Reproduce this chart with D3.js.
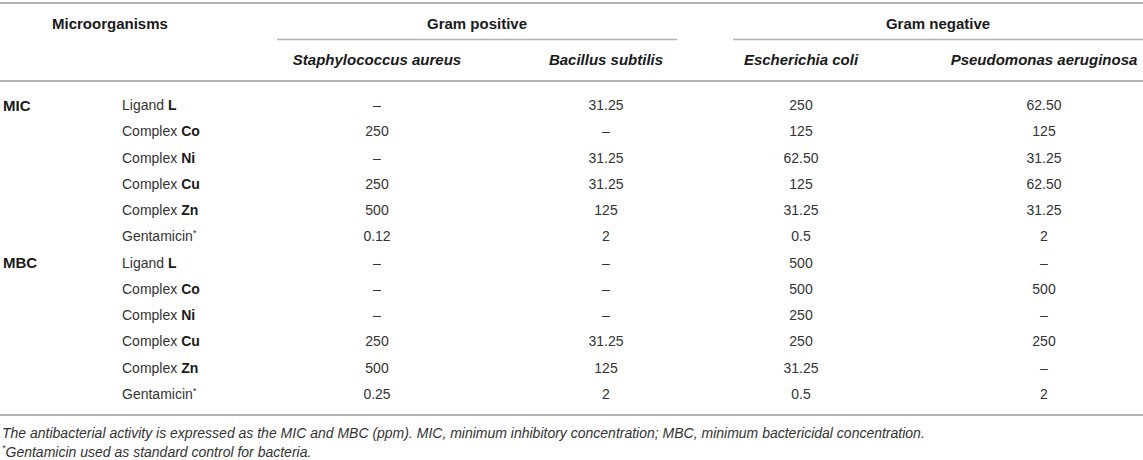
<!DOCTYPE html>
<html lang="en">
<head>
  <meta charset="UTF-8" />
  <title>table</title>
  <script src="https://cdn.jsdelivr.net/npm/d3@7/dist/d3.min.js"></script>
  <style>
    body { margin: 0; background: #fff; }
    text { font-family: "Liberation Sans", Arial, sans-serif; }
  </style>
</head>
<body>
  <svg id="svg"></svg>
<script>
  const groups = ["Gram positive", "Gram negative"];
  const species = ["Staphylococcus aureus", "Bacillus subtilis", "Escherichia coli", "Pseudomonas aeruginosa"];
  const measures = ["MIC", "MBC"];
  const compoundName = ["Ligand", "Complex", "Complex", "Complex", "Complex", "Gentamicin"];
  const compoundBold = ["L", "Co", "Ni", "Cu", "Zn", ""];
  const micValues = [
    ["–", "31.25", "250", "62.50"],
    ["250", "–", "125", "125"],
    ["–", "31.25", "62.50", "31.25"],
    ["250", "31.25", "125", "62.50"],
    ["500", "125", "31.25", "31.25"],
    ["0.12", "2", "0.5", "2"]
  ];
  const mbcValues = [
    ["–", "–", "500", "–"],
    ["–", "–", "500", "500"],
    ["–", "–", "250", "–"],
    ["250", "31.25", "250", "250"],
    ["500", "125", "31.25", "–"],
    ["0.25", "2", "0.5", "2"]
  ];
  const footnotes = [
    "The antibacterial activity is expressed as the MIC and MBC (ppm). MIC, minimum inhibitory concentration; MBC, minimum bactericidal concentration.",
    "Gentamicin used as standard control for bacteria."
  ];

  const width = 1143;
  const height = 460;
  const lineColor = "#b3b3b3";
  const headColor = "#1a1a1a";
  const bodyColor = "#333333";
  const headSize = 15;
  const bodySize = 14;

  const svg = d3.select("#svg").attr("width", width).attr("height", height);

  // rows: measure x compound
  const rows = [];
  measures.forEach((m, mi) => {
    const vals = mi === 0 ? micValues : mbcValues;
    compoundName.forEach((c, ci) => {
      rows.push({ measure: m, first: ci === 0, name: c, bold: compoundBold[ci], values: vals[ci] });
    });
  });

  const xScale = d3.scaleOrdinal().domain(species).range([377, 606, 801, 1044]);
  const groupScale = d3.scaleOrdinal().domain(groups).range([[277, 677], [733, 1143]]);
  const yScale = d3.scalePoint().domain(d3.range(rows.length)).range([105, 394]);

  // horizontal rules
  [3, 81, 415].forEach(y => {
    svg.append("line").attr("x1", 0).attr("x2", width).attr("y1", y).attr("y2", y)
      .attr("stroke", lineColor).attr("stroke-width", 2);
  });

  // header
  svg.append("text").attr("x", 52).attr("y", 23).attr("dominant-baseline", "central")
    .attr("font-size", headSize).attr("font-weight", "bold").attr("fill", headColor)
    .text("Microorganisms");

  groups.forEach(g => {
    const [a, b] = groupScale(g);
    svg.append("text").attr("x", (a + b) / 2).attr("y", 23).attr("dominant-baseline", "central")
      .attr("text-anchor", "middle").attr("font-size", headSize).attr("font-weight", "bold")
      .attr("fill", headColor).text(g);
    svg.append("line").attr("x1", a).attr("x2", b).attr("y1", 39.5).attr("y2", 39.5)
      .attr("stroke", lineColor).attr("stroke-width", 1.3);
  });

  svg.selectAll(".species").data(species).join("text")
    .attr("class", "species")
    .attr("x", d => xScale(d)).attr("y", 59).attr("dominant-baseline", "central")
    .attr("text-anchor", "middle").attr("font-size", headSize).attr("font-weight", "bold")
    .attr("font-style", "italic").attr("fill", headColor).text(d => d);

  // body rows
  const rowG = svg.selectAll(".row").data(rows).join("g")
    .attr("class", "row")
    .attr("transform", (d, i) => `translate(0, ${yScale(i)})`);

  rowG.filter(d => d.first).append("text")
    .attr("x", 3).attr("dominant-baseline", "central").attr("font-size", headSize)
    .attr("font-weight", "bold").attr("fill", headColor).text(d => d.measure);

  const label = rowG.append("text")
    .attr("x", 122).attr("dominant-baseline", "central").attr("font-size", bodySize)
    .attr("fill", bodyColor);
  label.append("tspan").text(d => d.bold ? d.name + " " : d.name);
  label.append("tspan").attr("font-weight", "bold").attr("fill", headColor).text(d => d.bold);
  label.filter(d => !d.bold).append("tspan").attr("font-size", bodySize * 0.7).attr("dy", -4).text("*");

  rowG.selectAll(".cell").data(d => d.values.map((v, j) => ({ v, sp: species[j] }))).join("text")
    .attr("class", "cell")
    .attr("x", d => xScale(d.sp)).attr("dominant-baseline", "central")
    .attr("text-anchor", "middle").attr("font-size", bodySize).attr("fill", bodyColor)
    .text(d => d.v);

  // footnotes
  svg.append("text").attr("x", 2).attr("y", 433).attr("dominant-baseline", "central")
    .attr("font-size", 14).attr("font-style", "italic").attr("fill", bodyColor)
    .text(footnotes[0]);
  const fn2 = svg.append("text").attr("x", 2).attr("y", 452).attr("dominant-baseline", "central")
    .attr("font-size", 14).attr("font-style", "italic").attr("fill", bodyColor);
  fn2.append("tspan").attr("font-size", 9).attr("dy", -4).text("*");
  fn2.append("tspan").attr("dy", 4).text(footnotes[1]);
</script>
</body>
</html>
